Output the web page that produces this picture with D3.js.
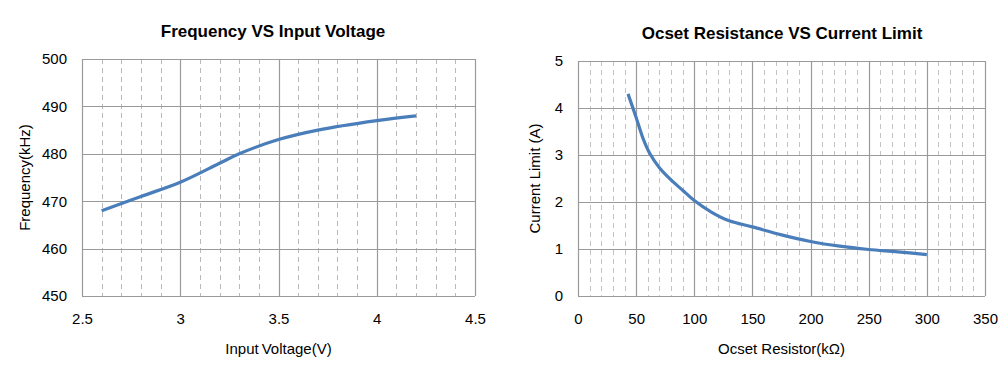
<!DOCTYPE html>
<html><head><meta charset="utf-8">
<script src="https://cdn.jsdelivr.net/npm/d3@7"></script>
<style>
html,body{margin:0;padding:0;background:#fff;}
svg{display:block;font-family:"Liberation Sans",Arial,sans-serif;}
</style></head>
<body><svg id="c" width="1008" height="369"></svg>
<script>
// Left chart data
const freqVoltage = [2.6, 2.8, 3.0, 3.2, 3.3, 3.5, 3.7, 4.0, 4.2];
const freqValues  = [468, 471, 474, 478, 480, 483, 485, 487, 488];
const freqXTicks = [2.5, 3, 3.5, 4, 4.5];
const freqYTicks = [450, 460, 470, 480, 490, 500];
// Right chart data
const ocsetRes    = [43, 50, 56, 62, 70, 80, 90, 100, 115, 130, 150, 175, 200, 225, 250, 275, 300];
const ocsetLimit  = [4.3, 3.8, 3.35, 3.02, 2.73, 2.47, 2.25, 2.03, 1.78, 1.6, 1.47, 1.3, 1.16, 1.06, 0.99, 0.94, 0.88];
const ocsetXTicks = [0, 50, 100, 150, 200, 250, 300, 350];
const ocsetYTicks = [0, 1, 2, 3, 4, 5];

const svg = d3.select("#c");

function drawChart(cfg) {
  const g = svg.append("g");
  const x = d3.scaleLinear().domain(cfg.xDomain).range([cfg.left, cfg.right]);
  const y = d3.scaleLinear().domain(cfg.yDomain).range([cfg.bottom, cfg.top]);

  g.append("g").selectAll("line").data(cfg.minorX).join("line")
    .attr("x1", d => Math.round(x(d)) + 0.5).attr("x2", d => Math.round(x(d)) + 0.5)
    .attr("y1", cfg.top).attr("y2", cfg.bottom)
    .attr("stroke", cfg.minorColor).attr("stroke-width", 1)
    .attr("stroke-dasharray", "5,4");

  g.append("g").selectAll("line").data(cfg.xTicks).join("line")
    .attr("x1", d => Math.round(x(d)) + 0.5).attr("x2", d => Math.round(x(d)) + 0.5)
    .attr("y1", cfg.top).attr("y2", cfg.bottom)
    .attr("stroke", "#9a9a9a").attr("stroke-width", 1.2);
  g.append("g").selectAll("line").data(cfg.yTicks).join("line")
    .attr("y1", d => Math.round(y(d)) + 0.5).attr("y2", d => Math.round(y(d)) + 0.5)
    .attr("x1", cfg.left).attr("x2", cfg.right)
    .attr("stroke", "#9a9a9a").attr("stroke-width", 1.2);

  const xAxis = g.append("g").attr("transform", `translate(0,${cfg.bottom})`)
    .call(d3.axisBottom(x).tickValues(cfg.xTicks).tickSize(0).tickPadding(17).tickFormat(d3.format("")));
  const yAxis = g.append("g").attr("transform", `translate(${cfg.left},0)`)
    .call(d3.axisLeft(y).tickValues(cfg.yTicks).tickSize(0).tickPadding(cfg.yPad).tickFormat(d3.format("")));
  [xAxis, yAxis].forEach(a => {
    a.select(".domain").remove();
    a.selectAll("text").attr("font-size", 15).attr("fill", "#000")
      .attr("font-family", "Liberation Sans, Arial, sans-serif");
  });

  const pts = cfg.xs.map((v, i) => [v, cfg.ys[i]]);
  g.append("path").datum(pts)
    .attr("d", d3.line().x(d => x(d[0])).y(d => y(d[1])).curve(d3.curveCatmullRom.alpha(0.5)))
    .attr("fill", "none").attr("stroke", "#4a7ebb").attr("stroke-width", 3.2)
    .attr("stroke-linecap", "butt");

  g.append("text").attr("x", cfg.titleX).attr("y", cfg.titleY)
    .attr("text-anchor", "middle").attr("font-size", 17).attr("font-weight", "bold")
    .text(cfg.title);
  g.append("text").attr("x", (cfg.left + cfg.right) / 2).attr("y", 354)
    .attr("text-anchor", "middle").attr("font-size", 15).text(cfg.xTitle);
  g.append("text").attr("transform", `translate(${cfg.yTitleX},${(cfg.top + cfg.bottom) / 2}) rotate(-90)`)
    .attr("text-anchor", "middle").attr("font-size", 15).text(cfg.yTitle);
}

drawChart({
  xDomain: [2.5, 4.5], yDomain: [450, 500],
  left: 82, right: 475, top: 59, bottom: 296,
  xTicks: freqXTicks, yTicks: freqYTicks,
  minorX: d3.range(2.6, 4.45, 0.1).map(v => +v.toFixed(1)).filter(v => Math.abs(v * 2 - Math.round(v * 2)) > 1e-6),
  minorColor: "#b8b8b8",
  xs: freqVoltage, ys: freqValues,
  yPad: 15,
  title: "Frequency VS Input Voltage", titleX: 273, titleY: 37,
  xTitle: "Input\u2009Voltage(V)", yTitle: "Frequency(kHz)", yTitleX: 30
});

drawChart({
  xDomain: [0, 350], yDomain: [0, 5],
  left: 578, right: 985, top: 61, bottom: 296,
  xTicks: ocsetXTicks, yTicks: ocsetYTicks,
  minorX: d3.range(10, 350, 10).filter(v => v % 50 !== 0),
  minorColor: "#c4c4c4",
  xs: ocsetRes, ys: ocsetLimit,
  yPad: 15,
  title: "Ocset Resistance VS  Current  Limit", titleX: 782, titleY: 39,
  xTitle: "Ocset Resistor(k\u03A9)", yTitle: "Current Limit (A)", yTitleX: 540
});
</script>
</body></html>
